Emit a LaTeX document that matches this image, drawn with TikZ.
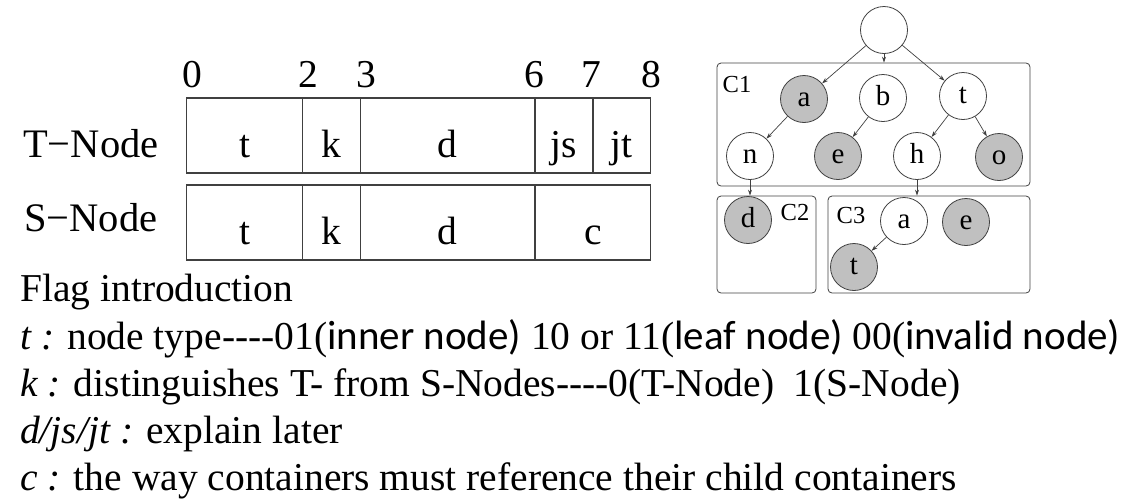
\documentclass[tikz,border=0pt]{standalone}
\usepackage{fontspec}
\setmainfont{Liberation Serif}
\newfontfamily\calib{Carlito}
\usetikzlibrary{arrows.meta}
\definecolor{lnc}{HTML}{404040}
\definecolor{fillg}{HTML}{C0C0C0}
\newcommand\hyq{\mbox{-}\mbox{-}\mbox{-}\mbox{-}}
\newcommand\sanst[1]{{\calib\fontsize{41}{46}\selectfont #1}}
\tikzset{
  cellbox/.style={draw=lnc, line width=1.2pt, rectangle, inner sep=0pt, minimum height=75pt,
    text height=50pt, text depth=7pt, font=\fontsize{39.5}{46}\selectfont},
  numlab/.style={anchor=base, inner sep=0pt, font=\fontsize{39.5}{46}\selectfont},
  rowlab/.style={anchor=base west, inner sep=0pt, font=\fontsize{40.5}{46}\selectfont},
  txtline/.style={anchor=base west, inner sep=0pt, font=\fontsize{39.5}{46}\selectfont},
  tnode/.style={draw=lnc, line width=0.8pt, circle, fill=white, minimum size=47pt, inner sep=0pt,
    text height=14pt, text depth=0pt, font=\fontsize{29}{32}\selectfont},
  gnode/.style={tnode, fill=fillg},
  cont/.style={draw=lnc, line width=0.8pt, rectangle, rounded corners=4pt, inner sep=0pt},
  contlab/.style={inner sep=0pt, font=\fontsize{24.5}{28}\selectfont},
  arr/.style={draw=lnc, line width=0.7pt, -{Stealth[length=6pt,width=4pt]}},
}
\begin{document}
\begin{tikzpicture}[x=1pt,y=-1pt]
\useasboundingbox (0,0) rectangle (1143,499);
% bit positions
\node[numlab] (n0) at (192,87) {0};
\node[numlab] (n2) at (308,87) {2};
\node[numlab] (n3) at (366,87) {3};
\node[numlab] (n6) at (534,87) {6};
\node[numlab] (n7) at (591,87) {7};
\node[numlab] (n8) at (651,87) {8};
% row labels
\node[rowlab] (tl) at (23,157) {T−Node};
\node[rowlab] (sl) at (24,231) {S−Node};
% T-Node row
\node[cellbox, minimum width=115.9pt] (tt) at (244.55,135.5) {t};
\node[cellbox, minimum width=58pt] (tk) at (331.5,135.5) {k};
\node[cellbox, minimum width=174.4pt] (td) at (447.7,135.5) {d};
\node[cellbox, minimum width=58pt] (tjs) at (563.9,135.5) {js};
\node[cellbox, minimum width=57.9pt] (tjt) at (621.85,135.5) {jt};
% S-Node row
\node[cellbox, minimum width=115.9pt] (st) at (244.55,222.5) {t};
\node[cellbox, minimum width=58pt] (sk) at (331.5,222.5) {k};
\node[cellbox, minimum width=174.4pt] (sd) at (447.7,222.5) {d};
\node[cellbox, minimum width=115.9pt] (sc) at (592.85,222.5) {c};
% containers
\node[cont, minimum width=313pt, minimum height=123pt] (C1) at (873.5,124.5) {};
\node[cont, minimum width=99pt, minimum height=97pt] (C2) at (766.5,244.5) {};
\node[cont, minimum width=202pt, minimum height=97pt] (C3) at (929,244.5) {};
\node[contlab] (c1l) at (737,85) {C1};
\node[contlab] (c2l) at (795,213) {C2};
\node[contlab] (c3l) at (851,216) {C3};
% tree nodes
\node[tnode] (root) at (884,30) {};
\node[gnode] (a) at (804,99) {a};
\node[tnode] (b) at (883,98) {b};
\node[tnode] (t) at (963,96) {t};
\node[tnode] (n) at (750,156) {n};
\node[gnode] (e) at (838,156) {e};
\node[tnode] (h) at (917,156) {h};
\node[gnode] (o) at (999,157) {o};
\node[gnode] (d) at (748,220) {d};
\node[tnode] (a2) at (904,221) {a};
\node[gnode] (e2) at (966,222) {e};
\node[gnode] (t2) at (854,267) {t};
% edges
\draw[arr] (root) -- (a);
\draw[arr] (root.south) -- (root.south |- C1.north);
\draw[arr] (root) -- (t);
\draw[arr] (a) -- (n);
\draw[arr] (b) -- (e);
\draw[arr] (t) -- (h);
\draw[arr] (t) -- (o);
\draw[arr] (n.south) -- (n.south |- C2.north);
\draw[arr] (h.south) -- (h.south |- C3.north);
\draw[arr] (a2) -- (t2);
% text
\node[txtline] (l0) at (20,301) {Flag introduction};
\node[txtline] (l1) at (20,349) {\textit{t :} node type\hyq01(\sanst{inner node)} 10 or 11(\sanst{leaf node)} 00(\sanst{invalid node)}};
\node[txtline] (l2) at (20,396) {\textit{k :} distinguishes T- from S-Nodes\hyq0(T-Node)\hspace{0.5em}1(S-Node)};
\node[txtline] (l3) at (20,443) {\textit{d/js/jt :} explain later};
\node[txtline] (l4) at (20,490) {\textit{c :} the way containers must reference their child containers};
\end{tikzpicture}
\end{document}
